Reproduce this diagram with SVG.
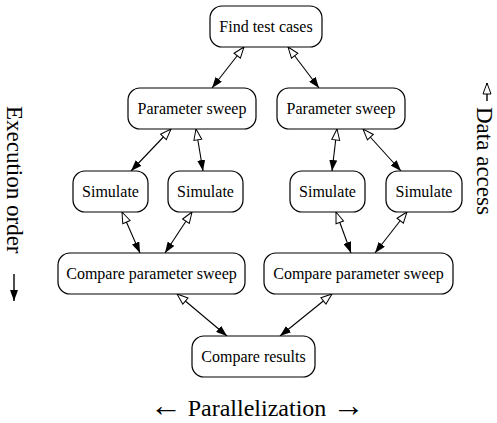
<svg xmlns="http://www.w3.org/2000/svg" width="497" height="423" viewBox="0 0 497 423">
<defs>
<style>
.box{fill:#fff;stroke:#000;stroke-width:1.2}
.lbl{font-size:16px;text-anchor:middle;fill:#000}
.side{font-size:23px;fill:#000}
.edge{stroke:#000;stroke-width:1.1;fill:none;marker-start:url(#open);marker-end:url(#solid)}
</style>
<marker id="solid" viewBox="0 0 11 8" refX="11" refY="4" markerWidth="11" markerHeight="8" orient="auto" markerUnits="userSpaceOnUse"><path d="M0,0 L11,4 L0,8 z" fill="#000"/></marker>
<marker id="open" viewBox="-1 -1 13 10" refX="11" refY="4" markerWidth="13" markerHeight="10" orient="auto-start-reverse" markerUnits="userSpaceOnUse"><path d="M0,0 L11,4 L0,8 z" fill="#fff" stroke="#000" stroke-width="1"/></marker>
</defs>
<rect width="497" height="423" fill="#fff"/>
<g id="connectors">
<line class="edge" x1="244" y1="47" x2="212" y2="88"/>
<line class="edge" x1="288" y1="47" x2="319" y2="88"/>
<line class="edge" x1="171" y1="129" x2="131" y2="171"/>
<line class="edge" x1="196" y1="129" x2="203" y2="171"/>
<line class="edge" x1="337" y1="129" x2="332" y2="171"/>
<line class="edge" x1="363" y1="129" x2="401" y2="171"/>
<line class="edge" x1="122" y1="212" x2="140" y2="253"/>
<line class="edge" x1="192" y1="212" x2="165" y2="253"/>
<line class="edge" x1="336" y1="212" x2="351" y2="253"/>
<line class="edge" x1="407" y1="212" x2="375" y2="253"/>
<line class="edge" x1="177" y1="294" x2="227" y2="336"/>
<line class="edge" x1="332" y1="294" x2="280" y2="336"/>
</g>
<g font-family="Liberation Serif, Times New Roman, Times, DejaVu Serif, serif">
<g id="find"><rect class="box" x="210" y="6" width="112" height="41" rx="12"/><text class="lbl" x="266" y="32">Find test cases</text></g>
<g id="ps1"><rect class="box" x="128" y="88" width="128" height="41" rx="12"/><text class="lbl" x="192" y="114">Parameter sweep</text></g>
<g id="ps2"><rect class="box" x="277" y="88" width="128" height="41" rx="12"/><text class="lbl" x="341" y="114">Parameter sweep</text></g>
<g id="sim1"><rect class="box" x="73" y="171" width="75" height="41" rx="12"/><text class="lbl" x="110.5" y="197">Simulate</text></g>
<g id="sim2"><rect class="box" x="168" y="171" width="75" height="41" rx="12"/><text class="lbl" x="205.5" y="197">Simulate</text></g>
<g id="sim3"><rect class="box" x="290" y="171" width="75" height="41" rx="12"/><text class="lbl" x="327.5" y="197">Simulate</text></g>
<g id="sim4"><rect class="box" x="386" y="171" width="76" height="41" rx="12"/><text class="lbl" x="424" y="197">Simulate</text></g>
<g id="cps1"><rect class="box" x="58" y="253" width="187" height="41" rx="12"/><text class="lbl" x="151.5" y="279">Compare parameter sweep</text></g>
<g id="cps2"><rect class="box" x="264" y="253" width="189" height="41" rx="12"/><text class="lbl" x="358.5" y="279">Compare parameter sweep</text></g>
<g id="cr"><rect class="box" x="192" y="336" width="123" height="41" rx="12"/><text class="lbl" x="253.5" y="362">Compare results</text></g>
<g id="labels">
<text class="side" transform="translate(7,106) rotate(90)">Execution order</text>
<line x1="14" y1="274" x2="14" y2="301" stroke="#000" stroke-width="1.4" marker-end="url(#solid)"/>
<line x1="487" y1="101" x2="487" y2="83" stroke="#000" stroke-width="1.4" marker-end="url(#open)"/>
<text class="side" transform="translate(477,107) rotate(90)">Data access</text>
<text class="side" x="257" y="416" text-anchor="middle" style="font-size:24px"><tspan style="font-size:32px">←</tspan> Parallelization <tspan style="font-size:32px">→</tspan></text>
</g>
</g>
</svg>
